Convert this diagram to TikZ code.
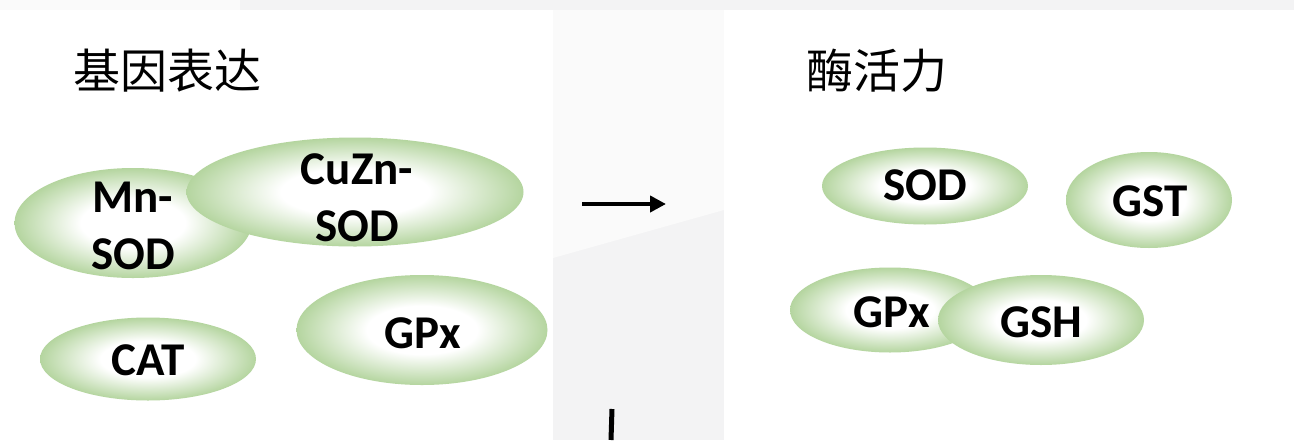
\documentclass[tikz,border=0pt]{standalone}
\usepackage{fontspec}
\setmainfont{Carlito}
\newfontfamily\cjk{Noto Sans CJK SC}
\usetikzlibrary{shapes.geometric,arrows.meta}
\definecolor{ellgreen}{RGB}{122,180,84}
\definecolor{bggrey}{RGB}{243,243,244}
\definecolor{bglight}{RGB}{250,250,250}
\pgfdeclareradialshading{ellshade}{\pgfpoint{0bp}{0bp}}{color(0bp)=(white); color(11bp)=(white); color(36bp)=(ellgreen); color(50bp)=(ellgreen)}
\tikzset{
  ell/.style={ellipse, draw=none, shading=ellshade, inner sep=0pt},
  lbl/.style={font=\bfseries\fontsize{47}{57}\selectfont, align=center, inner sep=0pt, text=black},
  title/.style={font=\cjk\fontsize{47}{56}\selectfont, anchor=west, inner sep=0pt},
}
\begin{document}
\begin{tikzpicture}[x=1pt,y=-1pt]
\useasboundingbox (0,0) rectangle (1294,440);
% background
\fill[bggrey] (0,0) rectangle (1294,440);
\fill[bglight] (0,0) rectangle (240,10);
\fill[bglight] (553,10) -- (724,10) -- (724,210) -- (553,258) -- cycle;
\fill[white] (0,10) rectangle (553,440);
\fill[white] (724,10) rectangle (1294,440);
% titles
\node[title] (t1) at (73,71) {基因表达};
\node[title] (t2) at (806,71) {酶活力};
% left ellipses
\node[ell, minimum width=237, minimum height=110] (mnsod) at (133,223) {};
\node[ell, minimum width=337, minimum height=109] (cuznsod) at (355,192) {};
\node[ell, minimum width=216, minimum height=83] (cat) at (148,359) {};
\node[ell, minimum width=251, minimum height=110] (gpxl) at (422,330) {};
\node[lbl] (mnsodt) at (133,226) {Mn-\\SOD};
\node[lbl] (cuznsodt) at (357,198) {CuZn-\\SOD};
\node[lbl] (catt) at (148,360) {CAT};
\node[lbl] (gpxlt) at (423,333) {GPx};
% right ellipses
\node[ell, minimum width=206, minimum height=77] (sod) at (925,186) {};
\node[ell, minimum width=166, minimum height=96] (gst) at (1149,200) {};
\node[ell, minimum width=200, minimum height=85] (gpxr) at (890,310) {};
\node[ell, minimum width=206, minimum height=90] (gsh) at (1041,320) {};
\node[lbl] (sodt) at (925,185) {SOD};
\node[lbl] (gstt) at (1150,201) {GST};
\node[lbl] (gpxrt) at (892,312) {GPx};
\node[lbl] (gsht) at (1041,322) {GSH};
% arrow and line
\coordinate (a1) at (582,204);
\coordinate (a2) at (666,204);
\draw[line width=4pt, -{Triangle[length=16pt,width=16pt]}] (a1) -- (a2);
\coordinate (b1) at (612,409);
\coordinate (b2) at (611,440);
\draw[line width=5pt] (b1) -- (b2);
\end{tikzpicture}
\end{document}
